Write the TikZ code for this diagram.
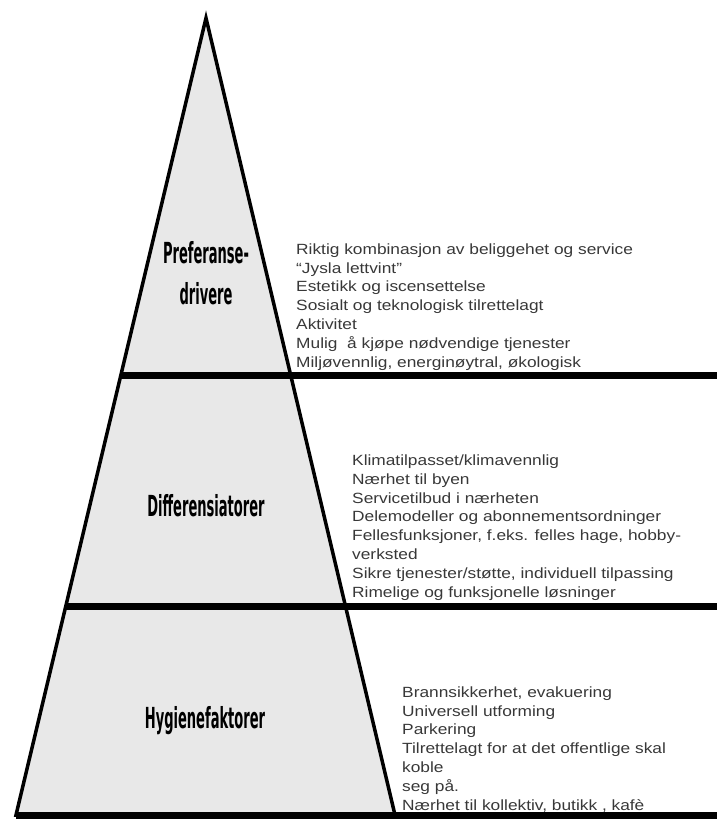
\documentclass[tikz,border=0pt]{standalone}
\usepackage{fontspec}
\setmainfont{Liberation Sans}
\newfontfamily\itemfont[FakeStretch=1.17]{Liberation Sans}
\newfontfamily\tierfont[FakeStretch=0.45]{DejaVu Sans}
\usetikzlibrary{calc}

\begin{document}
\begin{tikzpicture}[x=1pt, y=-1pt, line join=miter,
  tier/.style={anchor=base, inner sep=0, align=center, font=\tierfont\bfseries\fontsize{29}{41}\selectfont},
  items/.style={anchor=base west, inner sep=0, align=left, text=black!78, font=\itemfont\fontsize{14.8}{18.8}\selectfont},
  band/.style={line width=7pt}]
\useasboundingbox (0,0) rectangle (717,819);

% pyramid outline
\coordinate (top) at (206,18);
\coordinate (bl) at (16,815);
\coordinate (br) at (395,815);
\coordinate (edge) at (717,0);
\coordinate (l1) at ($(top)!0.448!(bl)$);
\coordinate (l2) at ($(top)!0.739!(bl)$);

\draw[line width=3.5pt, fill=black!9] (top) -- (br) -- (bl) -- cycle;
\draw[band] (l1) -- (l1 -| edge);
\draw[band] (l2) -- (l2 -| edge);
\draw[band] (bl) -- (bl -| edge);

% tiers (base = last line)
\node[tier] (pref) at (206,304) {Preferanse-\\drivere};
\node[tier] (diff) at (206,516) {Differensiatorer};
\node[tier] (hyg) at (205,728) {Hygienefaktorer};

% factors per tier
\node[items] (prefl) at (296,367) {Riktig kombinasjon av beliggehet og service\\
“Jysla lettvint”\\
Estetikk og iscensettelse\\
Sosialt og teknologisk tilrettelagt\\
Aktivitet\\
Mulig\ \ å kjøpe nødvendige tjenester\\
Miljøvennlig, energinøytral, økologisk};
\node[items] (diffl) at (352,597) {Klimatilpasset/klimavennlig\\
Nærhet til byen\\
Servicetilbud i nærheten\\
Delemodeller og abonnementsordninger\\
Fellesfunksjoner, f.eks. felles hage, hobby-\\
verksted\\
Sikre tjenester/støtte, individuell tilpassing\\
Rimelige og funksjonelle løsninger};
\node[items] (hygl) at (402,810) {Brannsikkerhet, evakuering\\
Universell utforming\\
Parkering\\
Tilrettelagt for at det offentlige skal\\
koble\\
seg på.\\
Nærhet til kollektiv, butikk , kafè};
\end{tikzpicture}
\end{document}
